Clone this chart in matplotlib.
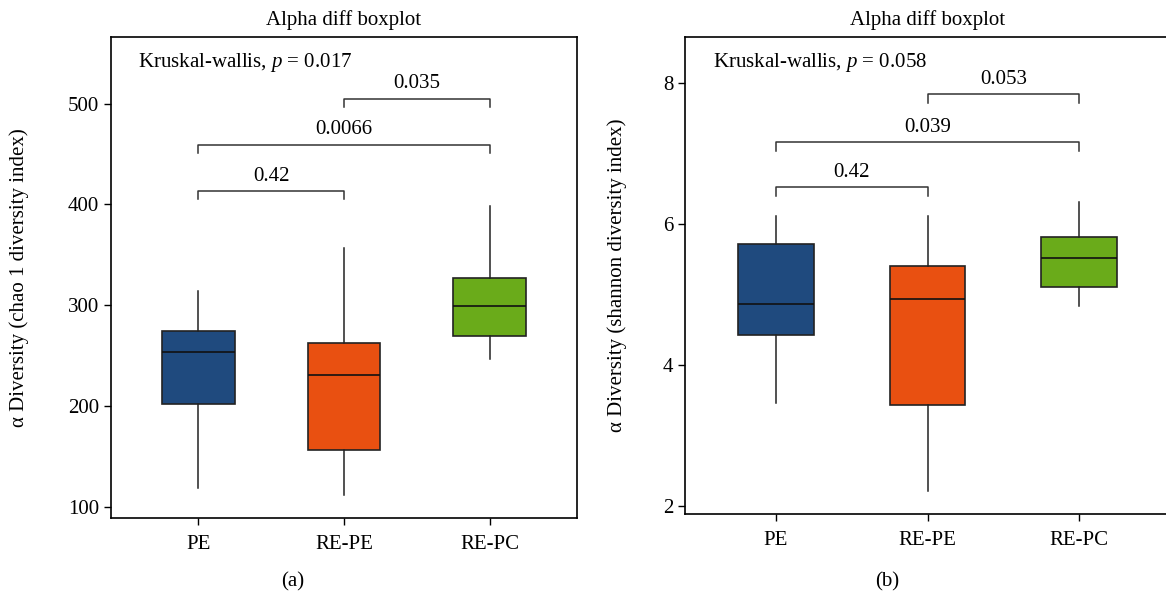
import numpy as np
import matplotlib
matplotlib.use('Agg')
import matplotlib.pyplot as plt

plt.rcParams['font.family'] = ['Liberation Serif', 'DejaVu Serif']
plt.rcParams['mathtext.fontset'] = 'custom'
plt.rcParams['mathtext.rm'] = 'Liberation Serif'
plt.rcParams['mathtext.it'] = 'Liberation Serif:italic'

groups = ['PE', 'RE-PE', 'RE-PC']
colors = ['#1f4a7e', '#e95011', '#6aab1a']

# chao1 (a)
chao_whislo = [119, 112, 247]
chao_q1 = [202, 156, 269]
chao_med = [254, 231, 299]
chao_q3 = [274, 263, 327]
chao_whishi = [314, 357, 398]
chao_kw = 0.017
chao_pairs = [(0, 1), (0, 2), (1, 2)]
chao_pvals = ['0.42', '0.0066', '0.035']
chao_brack = [413, 459, 505]

# shannon (b)
shan_whislo = [3.46, 2.21, 4.83]
shan_q1 = [4.43, 3.43, 5.11]
shan_med = [4.86, 4.93, 5.52]
shan_q3 = [5.72, 5.40, 5.82]
shan_whishi = [6.11, 6.11, 6.31]
shan_kw = 0.058
shan_pairs = [(0, 1), (0, 2), (1, 2)]
shan_pvals = ['0.42', '0.039', '0.053']
shan_brack = [6.52, 7.16, 7.84]

FS = 15
W, H = 1166, 599
fig = plt.figure(figsize=(W / 100, H / 100), dpi=100)


def make_ax(l, r, t, b):
    return fig.add_axes([l / W, 1 - b / H, (r - l) / W, (b - t) / H])


def panel(ax, lo, q1, med, q3, hi, kw, pairs, pvals, brack, tick_h, ylim, yticks, ylabel):
    stats = []
    for i in range(len(groups)):
        stats.append(dict(whislo=lo[i], q1=q1[i], med=med[i], q3=q3[i], whishi=hi[i], fliers=[]))
    bp = ax.bxp(stats, positions=range(len(groups)), widths=0.5, patch_artist=True,
                showcaps=False,
                boxprops=dict(edgecolor='#222222', linewidth=1.2),
                medianprops=dict(color='#111111', linewidth=1.2),
                whiskerprops=dict(color='#222222', linewidth=1.1))
    for patch, c in zip(bp['boxes'], colors):
        patch.set_facecolor(c)
    for (a, b), p, y in zip(pairs, pvals, brack):
        ax.plot([a, a, b, b], [y - tick_h, y, y, y - tick_h], color='#333333', lw=1.1)
        ax.annotate(p, xy=((a + b) / 2, y), xytext=(0, 4), textcoords='offset points',
                    ha='center', va='bottom', fontsize=FS)
    ax.text(0.057, 0.947, f'Kruskal-wallis, $p$ = {kw}', transform=ax.transAxes,
            ha='left', va='center', fontsize=FS)
    ax.set_xlim(-0.6, 2.6)
    ax.set_ylim(*ylim)
    ax.set_yticks(yticks)
    ax.set_xticks(range(len(groups)))
    ax.set_xticklabels(groups)
    ax.tick_params(labelsize=FS, length=5, width=1, direction='out')
    ax.tick_params(axis='x', pad=7)
    ax.set_ylabel(ylabel, fontsize=FS)
    ax.set_title('Alpha diff boxplot', fontsize=FS, pad=9)
    for s in ax.spines.values():
        s.set_linewidth(1.2)


ax1 = make_ax(111, 577, 37, 518)
panel(ax1, chao_whislo, chao_q1, chao_med, chao_q3, chao_whishi, chao_kw,
      chao_pairs, chao_pvals, chao_brack, 8, (89, 566), [100, 200, 300, 400, 500],
      'α Diversity (chao 1 diversity index)')
ax1.yaxis.set_label_coords(-0.176, 0.5)

ax2 = make_ax(685, 1170, 37, 514)
panel(ax2, shan_whislo, shan_q1, shan_med, shan_q3, shan_whishi, shan_kw,
      shan_pairs, shan_pvals, shan_brack, 0.12, (1.885, 8.65), [2, 4, 6, 8],
      'α Diversity (shannon diversity index)')
ax2.yaxis.set_label_coords(-0.12, 0.5)

fig.text(293 / W, 1 - 582 / H, '(a)', ha='center', va='center', fontsize=FS)
fig.text(887 / W, 1 - 582 / H, '(b)', ha='center', va='center', fontsize=FS)

fig.savefig('out.png', dpi=100)
